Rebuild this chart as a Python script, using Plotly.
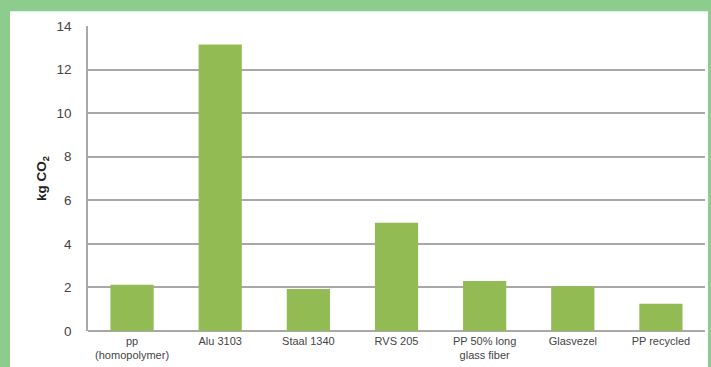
import plotly.graph_objects as go

categories = ["pp<br>(homopolymer)", "Alu 3103", "Staal 1340", "RVS 205",
              "PP 50% long<br>glass fiber", "Glasvezel", "PP recycled"]
values = [2.12, 13.15, 1.93, 4.97, 2.30, 2.05, 1.25]
y_ticks = [0, 2, 4, 6, 8, 10, 12, 14]

fig = go.Figure(go.Bar(x=categories, y=values, marker_color="#93bb54",
                       marker_line_width=0))

fig.update_layout(
    width=711, height=367,
    margin=dict(l=88, r=6, t=26, b=31),
    paper_bgcolor="#8ccc8c",
    plot_bgcolor="white",
    bargap=0.51,
    showlegend=False,
    font=dict(family="Liberation Sans, Arial, sans-serif", color="#333"),
    shapes=[dict(type="rect", xref="paper", yref="paper",
                 x0=-0.1264, x1=1.0049, y0=-0.2, y1=1.048,
                 fillcolor="white", line_width=0, layer="below")],
)
fig.update_yaxes(range=[0, 14], tickvals=y_ticks, showgrid=True,
                 gridcolor="#a8a8a8", gridwidth=1.5,
                 zeroline=True, zerolinecolor="#a8a8a8", zerolinewidth=1.5,
                 showline=True, linecolor="#a8a8a8", linewidth=1.5,
                 ticks="", ticklabelstandoff=12,
                 tickfont=dict(size=13.5, color="#444"),
                 title=dict(text="<b>kg CO<sub>2</sub></b>", standoff=7,
                            font=dict(size=13.5, color="#222")))
fig.update_xaxes(showgrid=False, ticks="", tickfont=dict(size=11, color="#444"),
                 ticklabelstandoff=2)

fig.write_html("out.html")
